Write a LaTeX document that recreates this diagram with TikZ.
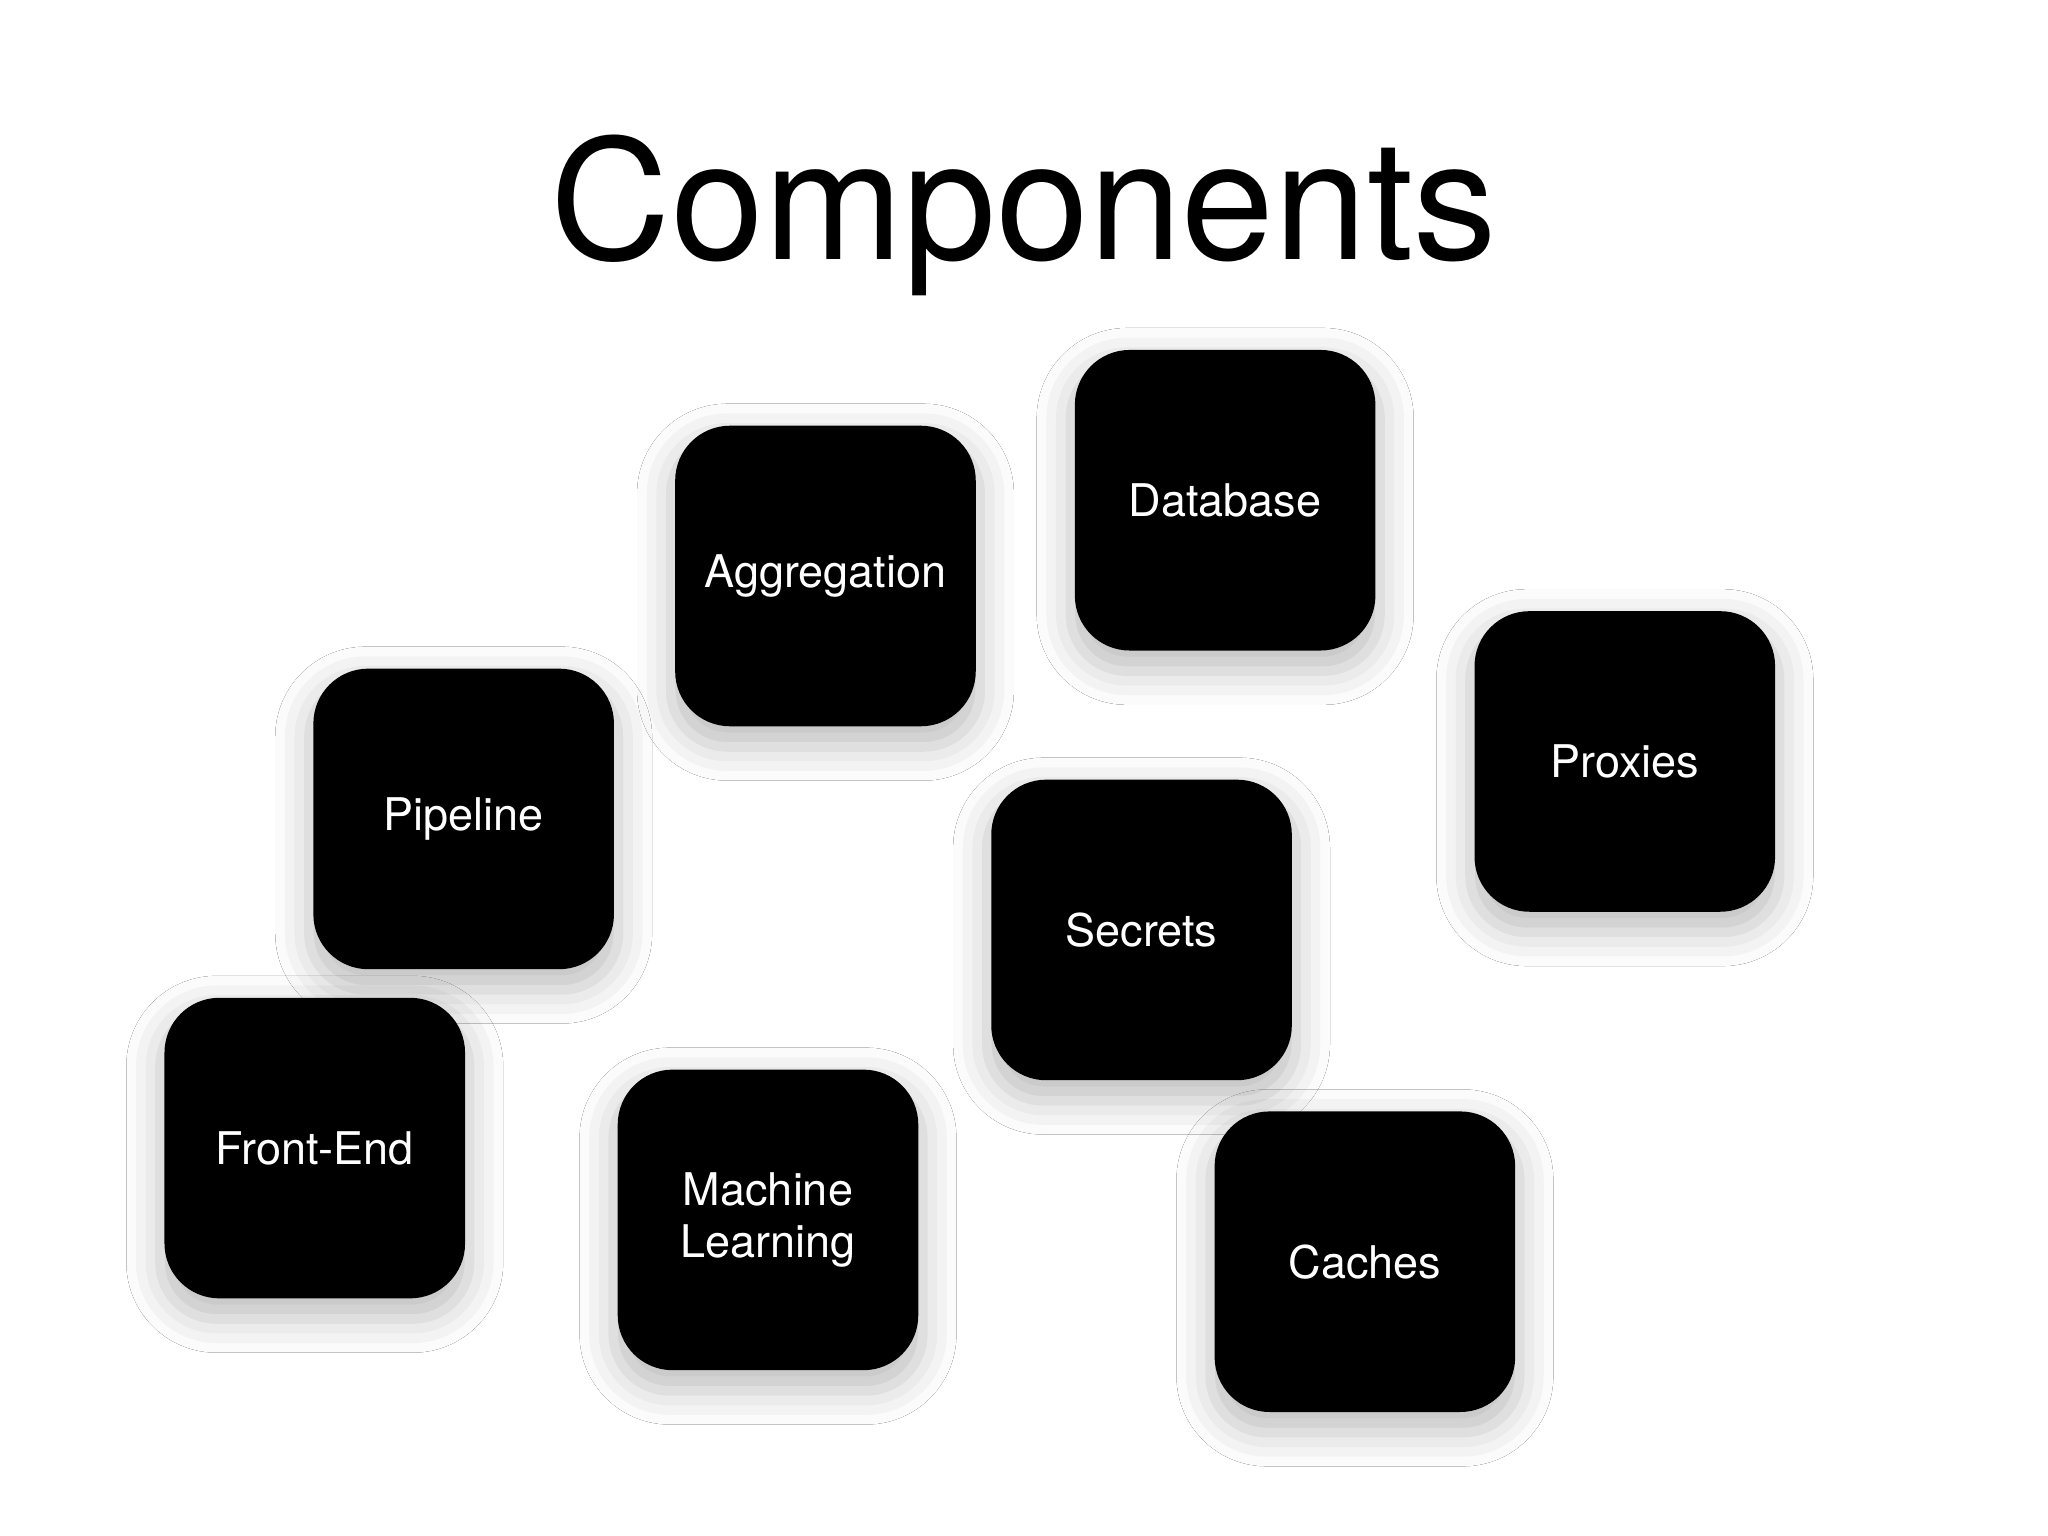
\documentclass[tikz,border=0pt]{standalone}
\usepackage{fontspec}
\setmainfont{TeX Gyre Heros}
\usetikzlibrary{shadows.blur}
\begin{document}
\begin{tikzpicture}[x=0.01cm,y=-0.01cm,
  comp/.style={fill=black,rounded corners=0.42cm,minimum width=2.3cm,minimum height=2.3cm,
    text=white,font=\fontsize{9.8}{11.5}\selectfont,align=center,inner sep=0pt,
    blur shadow={shadow xshift=0cm,shadow yshift=-0.12cm,shadow blur radius=0.25cm,shadow opacity=25,shadow scale=1.03}}]
\useasboundingbox[fill=white] (0,0) rectangle (1568,1176);
\node[font=\fontsize{36.3}{40}\selectfont] (title) at (784,165) {Components};
\node[comp] (agg) at (632,441) {Aggregation};
\node[comp] (db) at (938,383) {Database};
\node[comp] (pipe) at (355,627) {Pipeline};
\node[comp] (prox) at (1244,583) {Proxies};
\node[comp] (sec) at (874,712) {Secrets};
\node[comp] (fe) at (241,879) {Front-End};
\node[comp] (ml) at (588,934) {Machine\\Learning};
\node[comp] (cache) at (1045,966) {Caches};
\end{tikzpicture}
\end{document}
